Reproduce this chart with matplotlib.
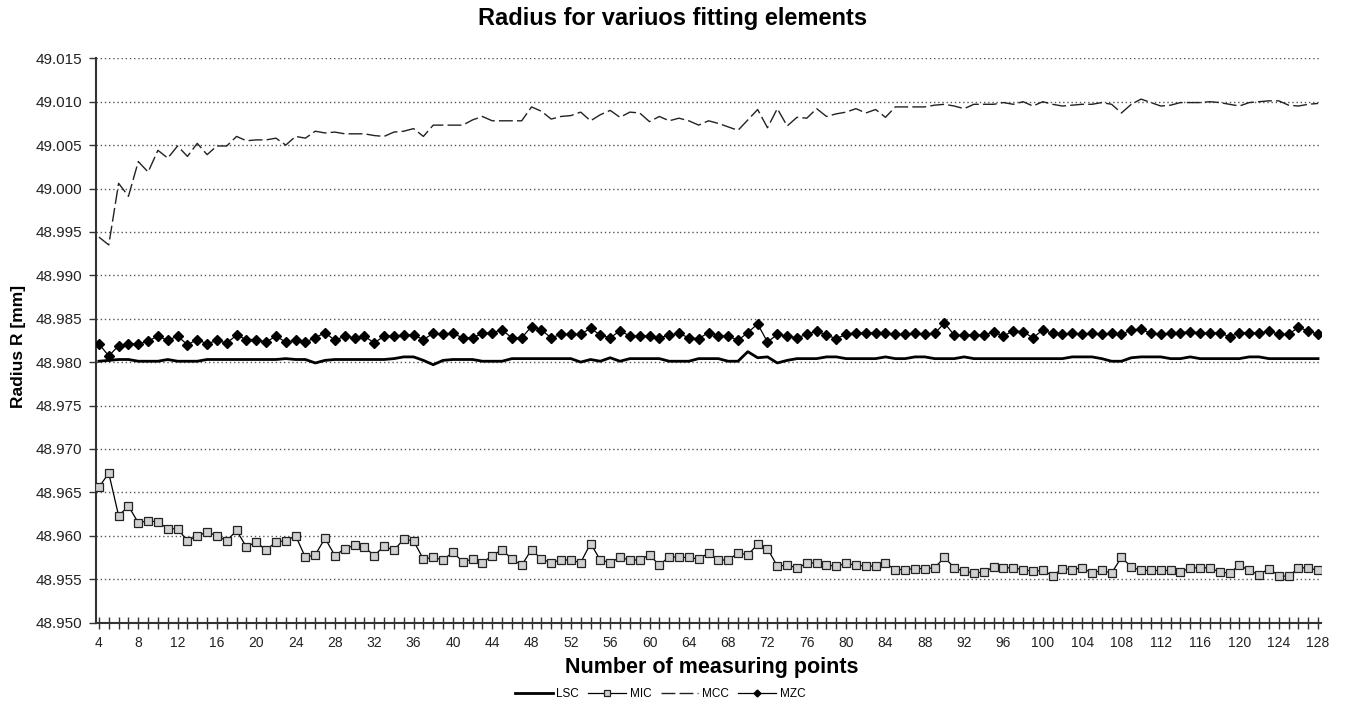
import matplotlib
matplotlib.use("Agg")
import matplotlib.pyplot as plt
from matplotlib.ticker import FixedLocator, FormatStrFormatter
import numpy as np

points = list(range(4, 129))

lsc = [48.9801, 48.9802, 48.9803, 48.9803, 48.9801, 48.9801, 48.9801, 48.9803, 48.9801, 48.9801,
       48.9801, 48.9803, 48.9803, 48.9803, 48.9803, 48.9803, 48.9803, 48.9803, 48.9803, 48.9804,
       48.9803, 48.9803, 48.9799, 48.9802, 48.9803, 48.9803, 48.9803, 48.9803, 48.9803, 48.9803,
       48.9804, 48.9806, 48.9806, 48.9802, 48.9797, 48.9802, 48.9803, 48.9803, 48.9803, 48.9801,
       48.9801, 48.9801, 48.9804, 48.9804, 48.9804, 48.9804, 48.9804, 48.9804, 48.9804, 48.9800,
       48.9803, 48.9801, 48.9805, 48.9801, 48.9804, 48.9804, 48.9804, 48.9804, 48.9801, 48.9801,
       48.9801, 48.9804, 48.9804, 48.9804, 48.9801, 48.9801, 48.9812, 48.9805, 48.9806, 48.9799,
       48.9802, 48.9804, 48.9804, 48.9804, 48.9806, 48.9806, 48.9804, 48.9804, 48.9804, 48.9804,
       48.9806, 48.9804, 48.9804, 48.9806, 48.9806, 48.9804, 48.9804, 48.9804, 48.9806, 48.9804,
       48.9804, 48.9804, 48.9804, 48.9804, 48.9804, 48.9804, 48.9804, 48.9804, 48.9804, 48.9806,
       48.9806, 48.9806, 48.9804, 48.9801, 48.9801, 48.9805, 48.9806, 48.9806, 48.9806, 48.9804,
       48.9804, 48.9806, 48.9804, 48.9804, 48.9804, 48.9804, 48.9804, 48.9806, 48.9806, 48.9804,
       48.9804, 48.9804, 48.9804, 48.9804, 48.9804]

mic = [48.9656, 48.9672, 48.9623, 48.9634, 48.9615, 48.9617, 48.9616, 48.9608, 48.9608, 48.9594,
       48.9600, 48.9604, 48.9600, 48.9594, 48.9606, 48.9587, 48.9593, 48.9583, 48.9593, 48.9594,
       48.9600, 48.9575, 48.9578, 48.9597, 48.9577, 48.9585, 48.9589, 48.9587, 48.9577, 48.9588,
       48.9583, 48.9596, 48.9594, 48.9573, 48.9575, 48.9572, 48.9581, 48.9570, 48.9573, 48.9569,
       48.9577, 48.9584, 48.9573, 48.9566, 48.9584, 48.9573, 48.9569, 48.9572, 48.9572, 48.9569,
       48.9591, 48.9572, 48.9569, 48.9575, 48.9572, 48.9572, 48.9578, 48.9566, 48.9576, 48.9575,
       48.9575, 48.9573, 48.9580, 48.9572, 48.9572, 48.9580, 48.9578, 48.9590, 48.9585, 48.9565,
       48.9566, 48.9563, 48.9568, 48.9569, 48.9566, 48.9565, 48.9568, 48.9566, 48.9565, 48.9565,
       48.9568, 48.9561, 48.9561, 48.9562, 48.9562, 48.9563, 48.9575, 48.9563, 48.9559, 48.9557,
       48.9558, 48.9564, 48.9563, 48.9563, 48.9561, 48.9559, 48.9560, 48.9554, 48.9562, 48.9561,
       48.9563, 48.9557, 48.9560, 48.9557, 48.9575, 48.9564, 48.9560, 48.9560, 48.9560, 48.9560,
       48.9558, 48.9563, 48.9563, 48.9563, 48.9558, 48.9557, 48.9566, 48.9560, 48.9555, 48.9562,
       48.9554, 48.9553, 48.9563, 48.9563, 48.9560]

mcc = [48.9944, 48.9935, 49.0006, 48.9991, 49.0031, 49.0019, 49.0044, 49.0035, 49.0049, 49.0037,
       49.0052, 49.0039, 49.0049, 49.0049, 49.0060, 49.0055, 49.0056, 49.0056, 49.0058, 49.0050,
       49.0060, 49.0058, 49.0066, 49.0064, 49.0065, 49.0063, 49.0063, 49.0063, 49.0061, 49.0060,
       49.0065, 49.0066, 49.0069, 49.0060, 49.0073, 49.0073, 49.0073, 49.0073, 49.0079, 49.0083,
       49.0078, 49.0078, 49.0078, 49.0078, 49.0094, 49.0089, 49.0080, 49.0083, 49.0084, 49.0088,
       49.0078, 49.0085, 49.0090, 49.0082, 49.0088, 49.0087, 49.0077, 49.0083, 49.0078, 49.0081,
       49.0078, 49.0073, 49.0078, 49.0075, 49.0071, 49.0067, 49.0079, 49.0091, 49.0070, 49.0092,
       49.0072, 49.0082, 49.0081, 49.0092, 49.0083, 49.0086, 49.0088, 49.0092, 49.0087, 49.0091,
       49.0082, 49.0094, 49.0094, 49.0094, 49.0094, 49.0096, 49.0097, 49.0095, 49.0092, 49.0097,
       49.0097, 49.0097, 49.0099, 49.0097, 49.0100, 49.0095, 49.0100, 49.0097, 49.0095, 49.0096,
       49.0097, 49.0097, 49.0099, 49.0097, 49.0087, 49.0097, 49.0103, 49.0099, 49.0095, 49.0096,
       49.0099, 49.0099, 49.0099, 49.0100, 49.0099, 49.0097, 49.0095, 49.0099, 49.0100, 49.0101,
       49.0101, 49.0096, 49.0095, 49.0097, 49.0098]

mzc = [48.9821, 48.9807, 48.9819, 48.9821, 48.9821, 48.9824, 48.9830, 48.9825, 48.9830, 48.9820,
       48.9826, 48.9821, 48.9825, 48.9822, 48.9831, 48.9826, 48.9826, 48.9823, 48.9830, 48.9823,
       48.9825, 48.9823, 48.9828, 48.9834, 48.9825, 48.9830, 48.9828, 48.9830, 48.9822, 48.9830,
       48.9830, 48.9831, 48.9831, 48.9826, 48.9833, 48.9832, 48.9833, 48.9828, 48.9828, 48.9833,
       48.9834, 48.9837, 48.9828, 48.9828, 48.9841, 48.9837, 48.9828, 48.9832, 48.9832, 48.9832,
       48.9839, 48.9831, 48.9828, 48.9836, 48.9830, 48.9830, 48.9830, 48.9828, 48.9831, 48.9833,
       48.9828, 48.9827, 48.9834, 48.9830, 48.9830, 48.9825, 48.9834, 48.9844, 48.9823, 48.9832,
       48.9830, 48.9828, 48.9832, 48.9836, 48.9831, 48.9827, 48.9832, 48.9834, 48.9833, 48.9834,
       48.9833, 48.9832, 48.9832, 48.9833, 48.9832, 48.9833, 48.9845, 48.9831, 48.9831, 48.9831,
       48.9831, 48.9835, 48.9830, 48.9836, 48.9835, 48.9828, 48.9837, 48.9833, 48.9832, 48.9833,
       48.9832, 48.9833, 48.9832, 48.9833, 48.9832, 48.9837, 48.9838, 48.9833, 48.9832, 48.9833,
       48.9834, 48.9835, 48.9834, 48.9833, 48.9834, 48.9829, 48.9834, 48.9834, 48.9833, 48.9836,
       48.9832, 48.9832, 48.9840, 48.9836, 48.9832]

series_names = ["LSC", "MIC", "MCC", "MZC"]
y_ticks = [48.950 + 0.005 * i for i in range(14)]
x_major = list(range(4, 129, 4))

title = "Radius for variuos fitting elements"
xlabel = "Number of measuring points"
ylabel = "Radius R [mm]"

plt.rcParams['font.family'] = ['Liberation Sans', 'DejaVu Sans']

fig = plt.figure(figsize=(13.45, 7.06), dpi=100)
ax = fig.add_axes([96/1345, 1 - 622.5/706, (1321 - 96)/1345, (622.5 - 58.3)/706])

ax.plot(points, lsc, color='black', lw=2.0, label=series_names[0], zorder=3)
ax.plot(points, mic, color='black', lw=0.9, marker='s', markersize=5.5,
        markerfacecolor='#d0d0d0', markeredgecolor='#222222', markeredgewidth=0.9,
        label=series_names[1], zorder=3)
ax.plot(points, mcc, color='#222222', lw=1.0, dashes=(10, 3), label=series_names[2], zorder=3)
ax.plot(points, mzc, color='black', lw=0.9, marker='D', markersize=5,
        markerfacecolor='black', markeredgecolor='black', label=series_names[3], zorder=3)

ax.set_xlim(3.7, 128.3)
ax.set_ylim(48.950, 49.015)
ax.yaxis.set_major_locator(FixedLocator(y_ticks))
ax.yaxis.set_major_formatter(FormatStrFormatter('%.3f'))
ax.xaxis.set_major_locator(FixedLocator(x_major))
ax.xaxis.set_minor_locator(FixedLocator(points))

for v in y_ticks[1:]:
    ax.axhline(v, color='#555555', lw=1.0, linestyle=(0, (1, 2)), zorder=1)

for s in ['top', 'right']:
    ax.spines[s].set_visible(False)
for s in ['left', 'bottom']:
    ax.spines[s].set_color('#333333')
    ax.spines[s].set_linewidth(1.5)

ax.tick_params(axis='y', direction='out', length=5, width=1, labelsize=11, colors='#333333', labelcolor='#222222', pad=5)
ax.tick_params(axis='x', which='both', direction='inout', length=8, width=1, colors='#333333', labelcolor='#222222')
ax.tick_params(axis='x', which='major', labelsize=10, pad=6)

fig.text(0.5, 1 - 18/706, title, ha='center', va='center', fontsize=17, fontweight='bold')
fig.text(712/1345, 1 - 667/706, xlabel, ha='center', va='center', fontsize=15.5, fontweight='bold')
fig.text(19/1345, 1 - 346/706, ylabel, ha='center', va='center', rotation=90, fontsize=12.5, fontweight='bold')

leg = fig.legend(loc='center', bbox_to_anchor=(660/1345, 1 - 694/706), ncol=4, frameon=False,
                 fontsize=8.5, handlelength=3.2, handletextpad=0.3, columnspacing=0.8, markerscale=0.7)

fig.savefig('out.png', dpi=100)
